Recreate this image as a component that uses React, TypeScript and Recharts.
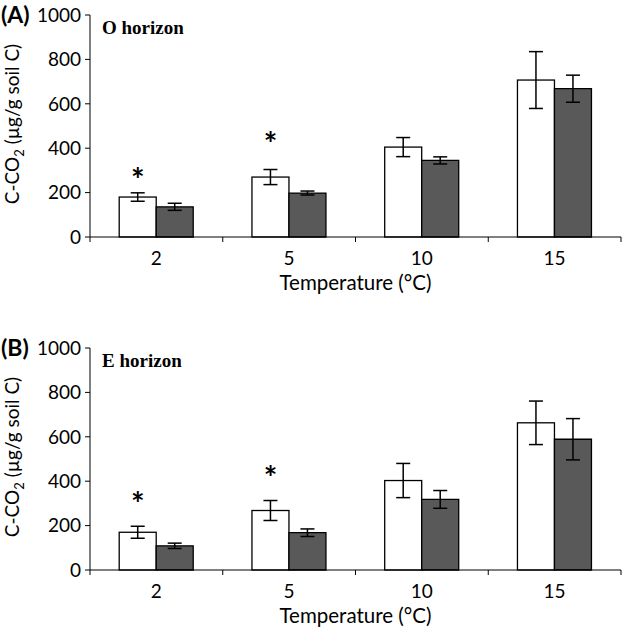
import React from 'react';
import { BarChart, Bar, XAxis, YAxis, ErrorBar } from 'recharts';

const categories = ['2', '5', '10', '15'];
const yTicks = [0, 200, 400, 600, 800, 1000];

// O horizon
const oControl = [180, 270, 405, 707];
const oControlErr = [19, 34, 43, 128];
const oTreated = [136, 198, 345, 668];
const oTreatedErr = [16, 9, 16, 61];
const oStars = [288, 450, null, null];

// E horizon
const eControl = [170, 268, 403, 663];
const eControlErr = [27, 45, 77, 98];
const eTreated = [109, 168, 318, 589];
const eTreatedErr = [12, 17, 40, 93];
const eStars = [328, 448, null, null];

const FONT = 'Lato, "Open Sans", sans-serif';
const W = 625;
const H = 300;

const build = (a: number[], ae: number[], b: number[], be: number[], s: (number | null)[]) =>
  categories.map((c, i) => ({ cat: c, a: a[i], ae: ae[i], b: b[i], be: be[i], star: s[i] }));

const oData = build(oControl, oControlErr, oTreated, oTreatedErr, oStars);
const eData = build(eControl, eControlErr, eTreated, eTreatedErr, eStars);

// white bar + asterisk above it (placed by the bar's own scale)
const WhiteBar = (props: any) => {
  const { x, y, width, height, payload } = props;
  let star = null;
  if (payload && payload.star != null && payload.a > 0) {
    const unit = height / payload.a;
    const sy = y + height - payload.star * unit;
    star = (
      <text x={x + width / 2} y={sy} dy="0.6em" textAnchor="middle" fontFamily={FONT} fontWeight={700} fontSize={32} fill="#000">
        *
      </text>
    );
  }
  return (
    <g>
      <rect x={x} y={y} width={width} height={height} fill="#fff" stroke="#000" strokeWidth={1.3} />
      {star}
    </g>
  );
};

const XTick = (props: any) => {
  const { x, y, payload, index } = props;
  const half = payload && payload.offset ? payload.offset : 66.4;
  const axisY = y - 15;
  return (
    <g>
      <line x1={x - half} x2={x - half} y1={axisY} y2={axisY + 5} stroke="#000" strokeWidth={1} />
      {index === categories.length - 1 && (
        <line x1={x + half} x2={x + half} y1={axisY} y2={axisY + 5} stroke="#000" strokeWidth={1} />
      )}
      <text x={x} y={y} dy="0.71em" textAnchor="middle" fontFamily={FONT} fontSize={19} fill="#000">
        {payload.value}
      </text>
    </g>
  );
};

const YTitle = (props: any) => {
  const vb = props.viewBox || {};
  const cy = (vb.y ?? 15) + (vb.height ?? 222) / 2 - 2;
  const cx = 19;
  return (
    <text x={cx} y={cy} transform={`rotate(-90 ${cx} ${cy})`} textAnchor="middle" fontFamily={FONT} fontSize={19} fill="#000">
      C-CO<tspan fontSize={13} dy={5}>2</tspan>
      <tspan dy={-5}> (µg/g soil C)</tspan>
    </text>
  );
};

const Panel = ({ data, letter, title, top }: { data: any[]; letter: string; title: string; top: number }) => (
  <div style={{ position: 'absolute', left: 0, top, width: W, height: H }}>
    <BarChart width={W} height={H} data={data} margin={{ top: 15, right: 4, bottom: 3, left: 30 }} barCategoryGap="22%" barGap={0}>
      <XAxis
        dataKey="cat"
        height={60}
        tickSize={5}
        tickMargin={10}
        tickLine={false}
        tick={<XTick />}
        axisLine={{ stroke: '#000' }}
        label={{ value: 'Temperature (°C)', position: 'insideBottom', offset: 7, fill: '#000', fontSize: 20.5, fontFamily: FONT }}
      />
      <YAxis
        domain={[0, 1000]}
        ticks={yTicks}
        width={60}
        tickSize={5}
        tickMargin={4}
        interval={0}
        axisLine={{ stroke: '#000' }}
        tickLine={{ stroke: '#000' }}
        tick={{ fill: '#000', fontSize: 19, fontFamily: FONT }}
        label={<YTitle />}
      />
      <Bar dataKey="a" shape={<WhiteBar />} isAnimationActive={false}>
        <ErrorBar dataKey="ae" width={7} stroke="#000" strokeWidth={1.5} direction="y" />
      </Bar>
      <Bar dataKey="b" fill="#595959" stroke="#000" strokeWidth={1.3} isAnimationActive={false}>
        <ErrorBar dataKey="be" width={7} stroke="#000" strokeWidth={1.5} direction="y" />
      </Bar>
    </BarChart>
    <div style={{ position: 'absolute', left: 1, top: 1, fontFamily: FONT, fontWeight: 700, fontSize: 23, lineHeight: '26px', color: '#000' }}>
      {letter}
    </div>
    <div style={{ position: 'absolute', left: 102, top: 17, fontFamily: '"Liberation Serif", serif', fontWeight: 700, fontSize: 19, lineHeight: '22px', color: '#000' }}>
      {title}
    </div>
  </div>
);

export default function App() {
  return (
    <div style={{ position: 'absolute', left: 0, top: 0, width: 625, height: 633, background: '#fff', overflow: 'hidden' }}>
      <Panel data={oData} letter="(A)" title="O horizon" top={0} />
      <Panel data={eData} letter="(B)" title="E horizon" top={333} />
    </div>
  );
}
